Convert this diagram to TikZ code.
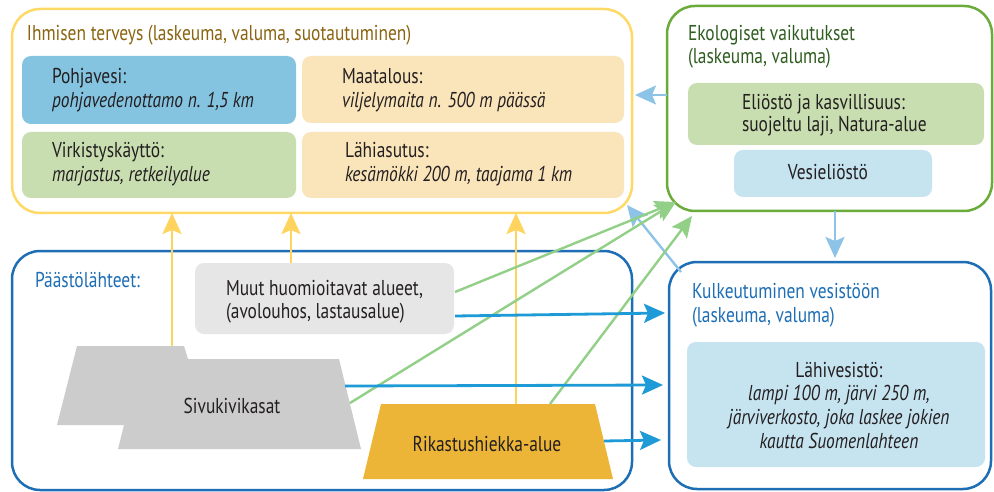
\documentclass[tikz,border=0pt]{standalone}
\usepackage{fontspec}
\setmainfont{PT Sans}[FakeStretch=0.81]
\usetikzlibrary{arrows.meta}
\definecolor{ink}{HTML}{231F20}
\definecolor{yelline}{HTML}{FFD966}
\definecolor{yelarrow}{HTML}{FFD45E}
\definecolor{browntext}{HTML}{8A640F}
\definecolor{greenline}{HTML}{6AAB3A}
\definecolor{greentext}{HTML}{2F5D1F}
\definecolor{blueline}{HTML}{1D6EB5}
\definecolor{paleblue}{HTML}{8DC3E6}
\definecolor{brightblue}{HTML}{1E9AD6}
\definecolor{greenarrow}{HTML}{92CF87}
\definecolor{groundwater}{HTML}{84C4E1}
\definecolor{wheat}{HTML}{FAE4BA}
\definecolor{leaf}{HTML}{C9DEB0}
\definecolor{water}{HTML}{C6E3F0}
\definecolor{lightgray}{HTML}{E6E6E6}
\definecolor{rock}{HTML}{CCCCCC}
\definecolor{gold}{HTML}{ECB537}
\begin{document}
\begin{tikzpicture}[x=1pt,y=-1pt,
  font=\fontsize{21.5}{25}\selectfont, text=ink,
  lbl/.style={inner sep=0, outer sep=0, anchor=base west},
  lblc/.style={inner sep=0, outer sep=0, anchor=base},
  panel/.style={draw, line width=2.5pt, rounded corners=28pt, inner sep=0, outer sep=0, fill=white},
  tile/.style={rounded corners=9pt, inner sep=0, outer sep=0},
  tipbig/.style={-{Stealth[length=21pt,width=19pt,inset=4pt]}},
  yarrow/.style={tipbig, draw=yelarrow, line width=2.5pt},
  parrow/.style={tipbig, draw=paleblue, line width=2.4pt},
  garrow/.style={tipbig, draw=greenarrow, line width=2.4pt},
  barrow/.style={tipbig, draw=brightblue, line width=2.8pt}]
\useasboundingbox (0,0) rectangle (994,492);

% --- human health panel ---
\node[panel, draw=yelline, minimum width=620, minimum height=204] (terveys) at (322,111) {};
\node[lbl, text=browntext] (terveysT) at (27,41) {Ihmisen terveys (laskeuma, valuma, suotautuminen)};
\node[tile, fill=groundwater, minimum width=274, minimum height=68] (pohja) at (159,90) {};
\node[tile, fill=wheat, minimum width=322, minimum height=67] (maat) at (463,89.5) {};
\node[tile, fill=leaf, minimum width=274, minimum height=66] (virk) at (159,165) {};
\node[tile, fill=wheat, minimum width=322, minimum height=66] (lahi) at (463,165) {};
\node[lbl] (pohja1) at (52,84) {Pohjavesi:};
\node[lbl] (pohja2) at (52,108) {\itshape pohjavedenottamo n. 1,5 km};
\node[lbl] (maat1) at (342,84) {Maatalous:};
\node[lbl] (maat2) at (342,108) {\itshape viljelymaita n. 500 m päässä};
\node[lbl] (virk1) at (52,158) {Virkistyskäyttö:};
\node[lbl] (virk2) at (52,182) {\itshape marjastus, retkeilyalue};
\node[lbl] (lahi1) at (345,158) {Lähiasutus:};
\node[lbl] (lahi2) at (345,182) {\itshape kesämökki 200 m, taajama 1 km};

% --- ecological panel ---
\node[panel, draw=greenline, minimum width=325, minimum height=205] (ekol) at (829.5,108.5) {};
\node[lbl, text=greentext] (ekolT1) at (688,41) {Ekologiset vaikutukset};
\node[lbl, text=greentext] (ekolT2) at (688,64) {(laskeuma, valuma)};
\node[tile, fill=leaf, minimum width=296, minimum height=62] (elio) at (836,114) {};
\node[lbl] (elio1) at (742,110) {Eliöstö ja kasvillisuus:};
\node[lbl] (elio2) at (742,132) {suojeltu laji, Natura-alue};
\node[tile, fill=water, minimum width=198, minimum height=47] (vesi) at (833,173.5) {};
\node[lblc] (vesiT) at (828,180) {Vesieliöstö};

% --- emission sources panel ---
\node[panel, draw=blueline, minimum width=620, minimum height=239] (paasto) at (322,370.5) {};
\node[lbl, text=blueline] (paastoT) at (35,287) {Päästölähteet:};
\node[tile, fill=lightgray, minimum width=259, minimum height=71] (muut) at (324.5,298.5) {};
\node[lbl] (muut1) at (226,295) {Muut huomioitavat alueet,};
\node[lbl] (muut2) at (226,318) {(avolouhos, lastausalue)};
\fill[rock] (77,346) -- (184,346) -- (188,359) -- (339,359) -- (361,449)
  -- (118,449) -- (124,425) -- (57,425) -- cycle;
\node[lblc] (sivu) at (232,413) {Sivukivikasat};
\fill[gold] (381,404) -- (595,404) -- (613,479) -- (363,479) -- cycle;
\node[lblc] (rik) at (487,451) {Rikastushiekka-alue};

% --- water transport panel ---
\node[panel, draw=blueline, minimum width=322, minimum height=227] (kulk) at (830,375.5) {};
\node[lbl, text=blueline] (kulkT1) at (692,298) {Kulkeutuminen vesistöön};
\node[lbl, text=blueline] (kulkT2) at (692,322) {(laskeuma, valuma)};
\node[tile, fill=water, minimum width=298, minimum height=125] (vesisto) at (836,404.5) {};
\node[lblc] (vesisto1) at (839,377) {Lähivesistö:};
\node[lblc] (vesisto2) at (839,400) {\itshape lampi 100 m, järvi 250 m,};
\node[lblc] (vesisto3) at (839,424) {\itshape järviverkosto, joka laskee jokien};
\node[lblc] (vesisto4) at (839,448) {\itshape kautta Suomenlahteen};

% --- connector end points on the shapes ---
\coordinate (sivuN) at (172,346);
\coordinate (sivuG) at (350,403);
\coordinate (sivuB) at (345,386);
\coordinate (rikN) at (516,404);
\coordinate (rikG) at (550,404);
\coordinate (rikB) at (604,441);
\coordinate (muutN) at (291,263);
\coordinate (muutG) at (455,292);
\coordinate (muutB) at (455,316);
\coordinate (ekolW) at (667,95);
\coordinate (ekolS) at (835,211);
\coordinate (ekolSW1) at (676,202);
\coordinate (ekolSW2) at (692,216);
\coordinate (terveysSE) at (627,205);
\coordinate (kulkNW) at (681,272);
\coordinate (kulkW1) at (665,313);
\coordinate (kulkW2) at (663,385);
\coordinate (kulkW3) at (661,440);

% --- connectors ---
\draw[yarrow] (sivuN) -- (sivuN |- terveys.south);
\draw[yarrow] (muutN) -- (muutN |- terveys.south);
\draw[yarrow] (rikN) -- (rikN |- terveys.south);
\draw[parrow, shorten >=3pt] (ekolW) -- (ekolW -| terveys.east);
\draw[parrow, shorten >=4pt] (ekolS) -- (ekolS |- kulk.north);
\draw[parrow] (kulkNW) -- (terveysSE);
\draw[garrow] (muutG) -- (ekolSW1);
\draw[garrow] (sivuG) -- (ekolSW1);
\draw[garrow] (rikG) -- (ekolSW2);
\draw[barrow] (muutB) -- (kulkW1);
\draw[barrow] (sivuB) -- (kulkW2);
\draw[barrow] (rikB) -- (kulkW3);
\end{tikzpicture}
\end{document}
